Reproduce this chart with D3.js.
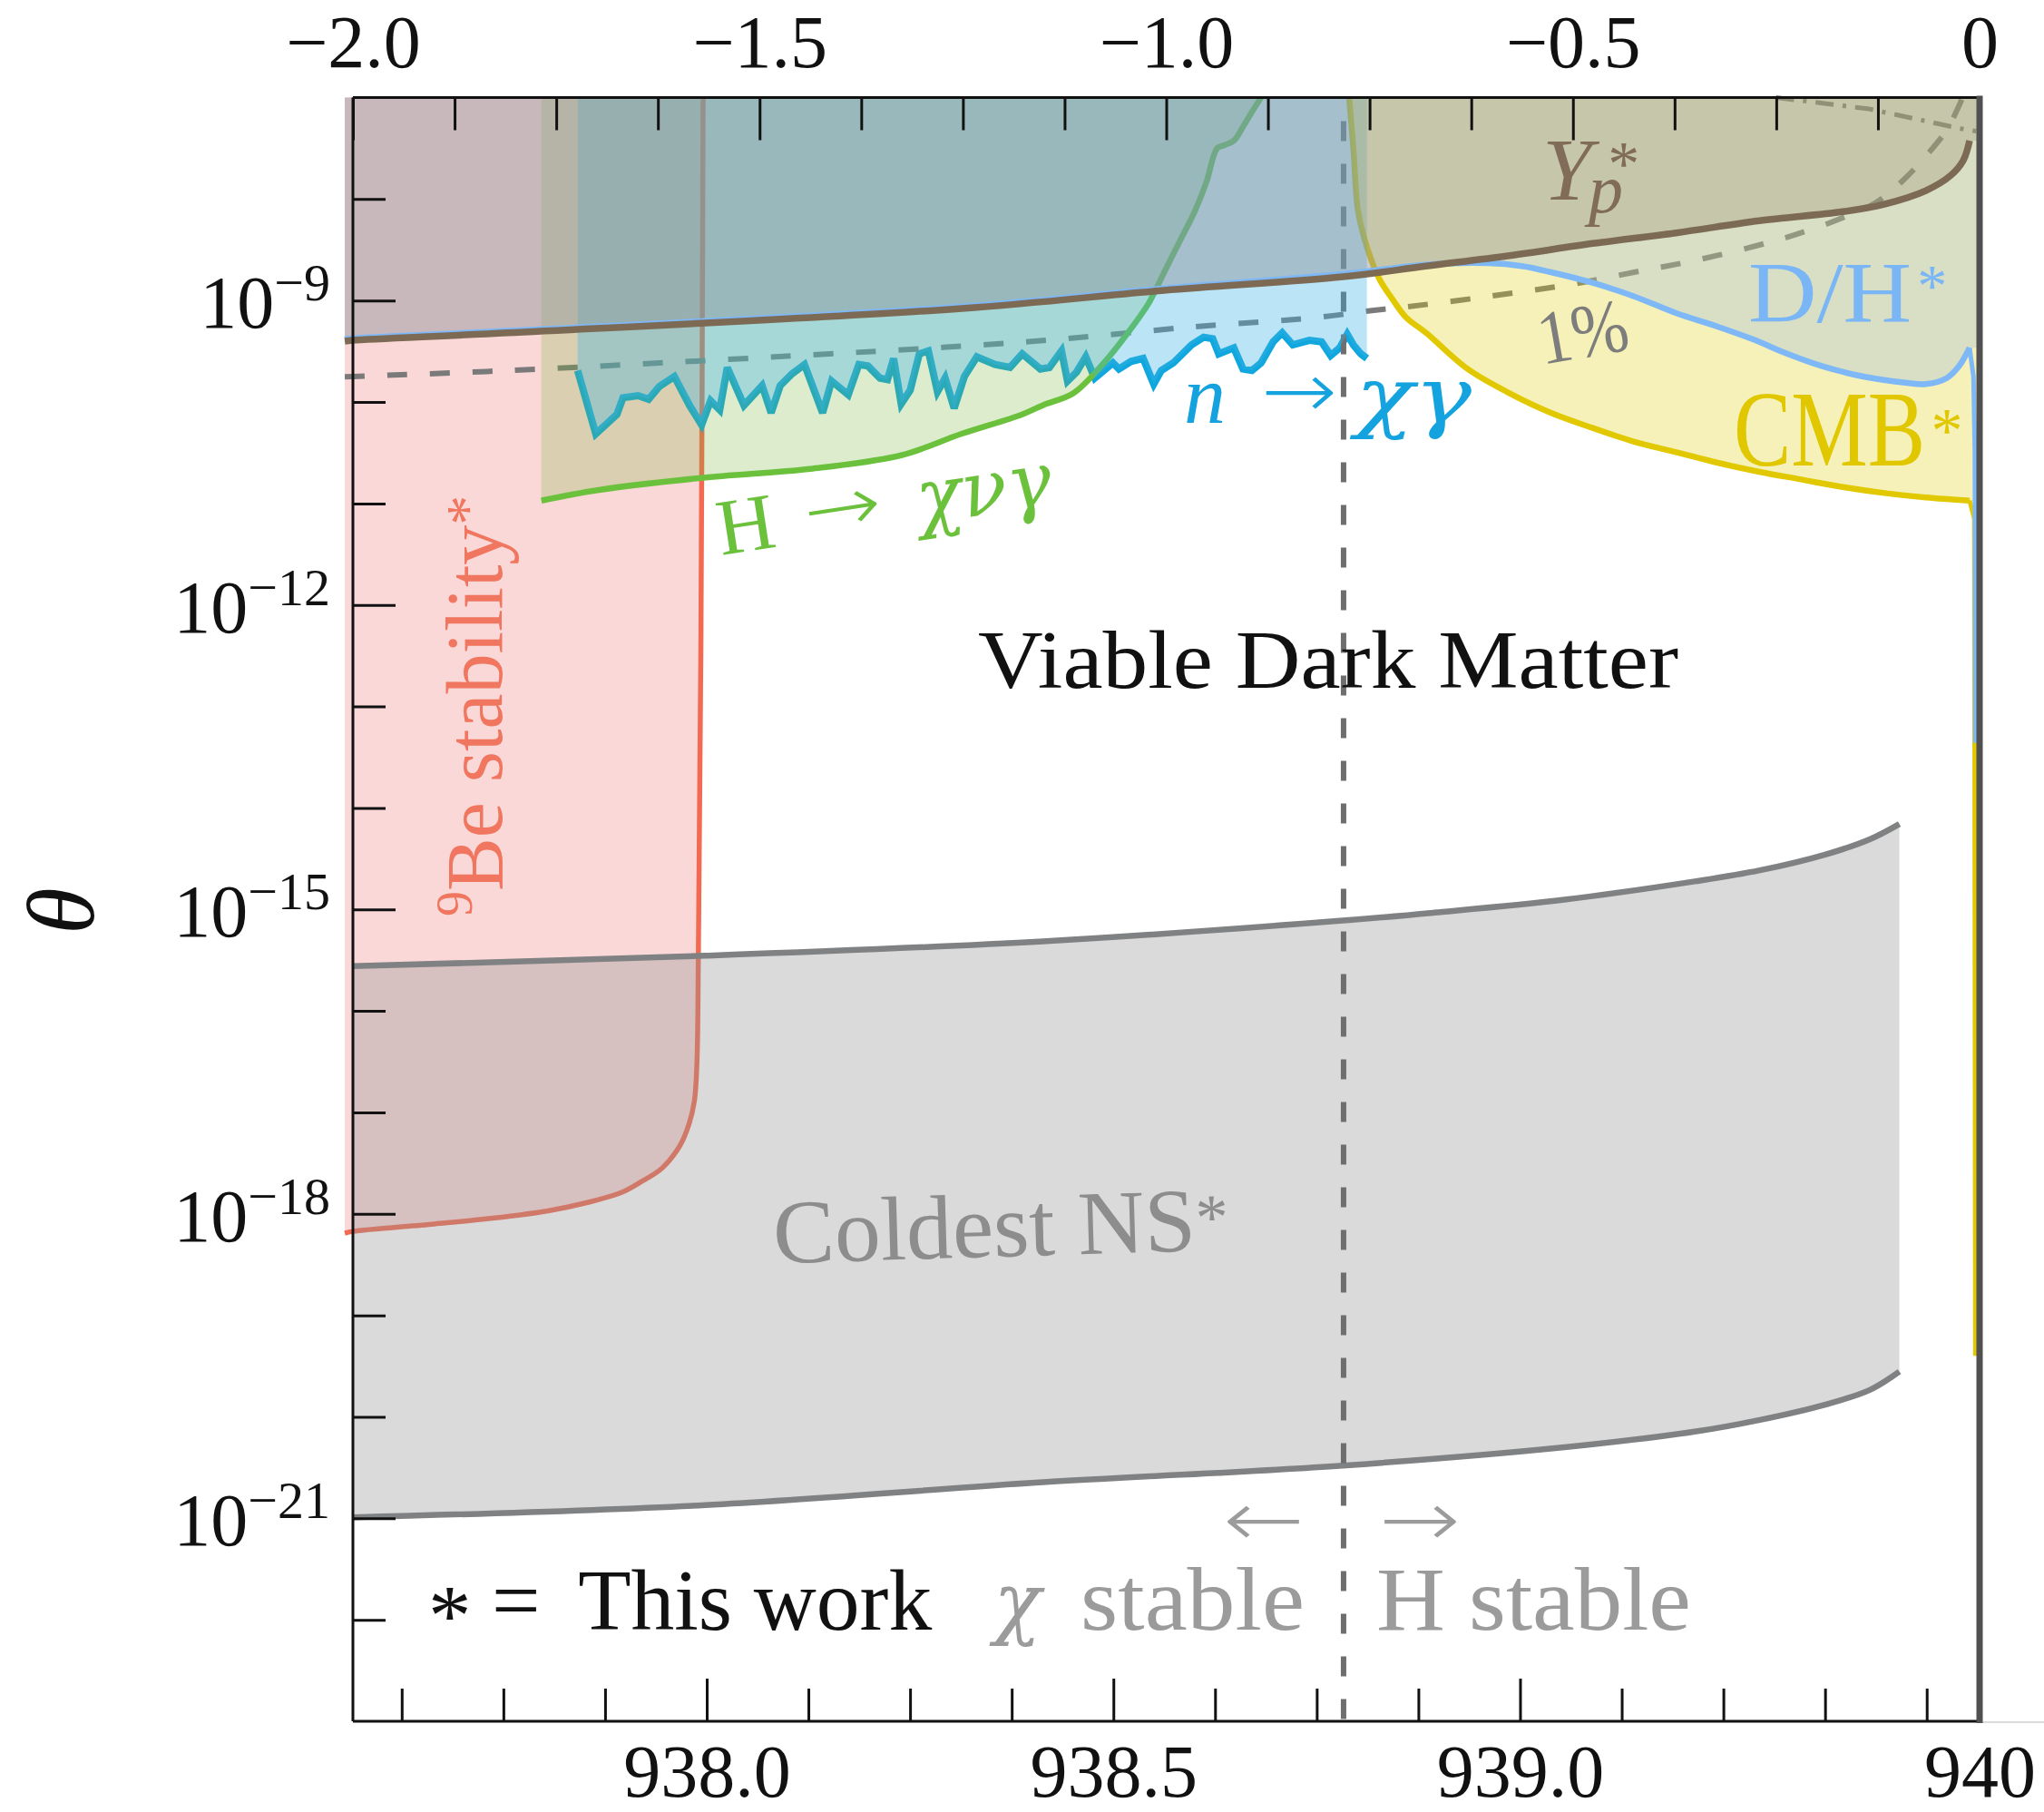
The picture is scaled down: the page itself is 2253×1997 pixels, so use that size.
<!DOCTYPE html>
<html>
<head>
<meta charset="utf-8">
<script src="https://cdn.jsdelivr.net/npm/d3@7/dist/d3.min.js"></script>
<style>
html,body{margin:0;padding:0;background:#fff;}
svg{display:block;}
</style>
</head>
<body>
<svg id="chart" width="2253" height="1997"></svg>
<script>
// ---------------- data ----------------
// x = m_chi - m_n  [MeV]  (top axis),  y = log10(theta)
const mN = 939.565;                 // bottom axis: m_chi = x + mN
const chiStableMass = 938.783;      // m_p + m_e  (vertical dashed line)
const topTickLabels = [-2.0, -1.5, -1.0, -0.5, 0];
const bottomTickLabels = [938.0, 938.5, 939.0, 939.565];
const yTickExponents = [-9, -12, -15, -18, -21];

const beStability = [[-2.01,-18.19],[-2.0,-18.173],[-1.9,-18.10],[-1.831,-18.045],[-1.76,-17.97],[-1.7104,-17.886],[-1.67,-17.79],[-1.6461,-17.686],[-1.62,-17.55],[-1.5979,-17.327],[-1.587,-17.12],[-1.5801,-16.885],[-1.577,-16.5],[-1.5753,-15.49],[-1.5721,-12.298],[-1.5694,-7.0]];

const coldestNSUpper = [[-2.0,-15.559],[-1.5667,-15.456],[-1.1516,-15.315],[-0.783,-15.110],[-0.6708,-15.032],[-0.5105,-14.904],[-0.3502,-14.724],[-0.2701,-14.615],[-0.1899,-14.46],[-0.135,-14.31],[-0.0986,-14.159]];
const coldestNSLower = [[-2.0,-20.991],[-1.5667,-20.87],[-1.1516,-20.645],[-0.783,-20.48],[-0.5105,-20.30],[-0.3502,-20.146],[-0.2701,-20.03],[-0.1899,-19.88],[-0.135,-19.735],[-0.0986,-19.555]];

const hDecay = [[-1.7683,-10.972],[-1.6977,-10.867],[-1.5713,-10.748],[-1.4375,-10.659],[-1.3259,-10.525],[-1.2515,-10.313],[-1.1771,-10.122],[-1.1512,-10.03],[-1.114,-9.913],[-1.0767,-9.615],[-1.0471,-9.318],[-1.021,-9.019],[-1.0025,-8.721],[-0.9838,-8.423],[-0.9652,-8.125],[-0.9504,-7.827],[-0.9373,-7.499],[-0.9281,-7.469],[-0.9169,-7.425],[-0.9058,-7.291],[-0.8946,-7.141],[-0.8834,-7.0]];

const nDecay = [[-1.7237,-9.690],[-1.7014,-10.315],[-1.6754,-10.122],[-1.6679,-9.958],[-1.6494,-9.937],[-1.6364,-9.973],[-1.6233,-9.848],[-1.6048,-9.749],[-1.5862,-10.033],[-1.5713,-10.226],[-1.5602,-9.988],[-1.5490,-10.078],[-1.5397,-9.660],[-1.5192,-10.033],[-1.4969,-9.839],[-1.4858,-10.107],[-1.4746,-9.839],[-1.4598,-9.720],[-1.4448,-9.631],[-1.4225,-10.107],[-1.4114,-9.794],[-1.3910,-9.928],[-1.3779,-9.631],[-1.3668,-9.645],[-1.3519,-9.765],[-1.3427,-9.779],[-1.3352,-9.571],[-1.3259,-10.018],[-1.3148,-9.884],[-1.3036,-9.526],[-1.2925,-9.496],[-1.2813,-9.899],[-1.2719,-9.765],[-1.2608,-10.062],[-1.2482,-9.749],[-1.2329,-9.555],[-1.2106,-9.631],[-1.1921,-9.660],[-1.1771,-9.526],[-1.1548,-9.675],[-1.1437,-9.660],[-1.1288,-9.496],[-1.1214,-9.794],[-1.1102,-9.705],[-1.0990,-9.555],[-1.0879,-9.765],[-1.0656,-9.615],[-1.0582,-9.675],[-1.0433,-9.600],[-1.0284,-9.571],[-1.0154,-9.824],[-1.0061,-9.690],[-0.9913,-9.615],[-0.9690,-9.437],[-0.9541,-9.362],[-0.9429,-9.377],[-0.9355,-9.526],[-0.9169,-9.466],[-0.9057,-9.675],[-0.8946,-9.690],[-0.8834,-9.615],[-0.8686,-9.407],[-0.8574,-9.318],[-0.8444,-9.437],[-0.8240,-9.392],[-0.8090,-9.407],[-0.7979,-9.541],[-0.7867,-9.466],[-0.7775,-9.332],[-0.7700,-9.437],[-0.7607,-9.526],[-0.7533,-9.571]];

const ypLine = [[-2.01,-9.40],[-2.0,-9.392],[-1.8093,-9.318],[-1.2515,-9.079],[-1.0025,-8.900],[-0.783,-8.766],[-0.6806,-8.661],[-0.5781,-8.558],[-0.4757,-8.438],[-0.3733,-8.334],[-0.2709,-8.214],[-0.1684,-8.125],[-0.1172,-8.051],[-0.066,-7.917],[-0.0354,-7.767],[-0.02,-7.619],[-0.0123,-7.425]];

const dhLine = [[-2.01,-9.38],[-2.0,-9.372],[-1.8093,-9.298],[-1.2515,-9.059],[-1.0025,-8.880],[-0.783,-8.740],[-0.6806,-8.647],[-0.6038,-8.632],[-0.5629,-8.661],[-0.527,-8.721],[-0.4757,-8.826],[-0.4246,-8.96],[-0.3733,-9.124],[-0.3221,-9.258],[-0.2709,-9.407],[-0.2453,-9.496],[-0.1941,-9.645],[-0.1429,-9.749],[-0.0917,-9.809],[-0.066,-9.824],[-0.0405,-9.765],[-0.0251,-9.645],[-0.0123,-9.466]];
const dhEdge = [[-0.0123,-9.466],[-0.0075,-9.75],[-0.0058,-10.5],[-0.0052,-13.36]];

const cmbLine = [[-0.7752,-7.0],[-0.7697,-7.529],[-0.7641,-8.125],[-0.7529,-8.482],[-0.7384,-8.781],[-0.7217,-8.989],[-0.705,-9.168],[-0.6806,-9.318],[-0.6294,-9.675],[-0.5781,-9.913],[-0.527,-10.107],[-0.4757,-10.256],[-0.4246,-10.391],[-0.3733,-10.494],[-0.3221,-10.599],[-0.2709,-10.688],[-0.2197,-10.763],[-0.1684,-10.838],[-0.1172,-10.897],[-0.066,-10.941],[-0.0123,-10.972]];
const cmbEdge = [[-0.0123,-10.972],[-0.0065,-11.15],[-0.0058,-15.0],[-0.0052,-19.4]];

const onePercent = [[-2.01,-9.752],[-2.0,-9.749],[-1.81,-9.69],[-1.274,-9.461],[-1.125,-9.377],[-0.9652,-9.258],[-0.8165,-9.168],[-0.7421,-9.094],[-0.7062,-9.064],[-0.6038,-8.96],[-0.5014,-8.84],[-0.4246,-8.721],[-0.3477,-8.602],[-0.2709,-8.453],[-0.2197,-8.334],[-0.1684,-8.185],[-0.1275,-8.035],[-0.0917,-7.798],[-0.0609,-7.529],[-0.0405,-7.32],[-0.0245,-7.067],[-0.0212,-7.0]];

const dashDot = [[-0.2504,-7.0],[-0.1361,-7.112],[-0.0148,-7.32],[-0.004,-7.33]];

// ---------------- scales ----------------
const M = {left: 389, right: 2182, top: 107.5, bottom: 1897};
const SERIF = "'Liberation Serif','Times New Roman',Times,serif";
const GREEK = "'DejaVu Serif',serif";
const ARROW = "'DejaVu Sans',sans-serif";
const svg = d3.select("#chart");
svg.append("rect").attr("width", 2253).attr("height", 1997).attr("fill", "#fff");

const xD = d3.scaleLinear().domain([-2, 0]).range([M.left, M.right]);
const xM = d3.scaleLinear().domain([mN - 2, mN]).range([M.left, M.right]);
const y = d3.scaleLog().domain([1e-23, 1e-7]).range([M.bottom, M.top]);
const yL = v => y(Math.pow(10, v));

const smooth = d3.line().x(d => xD(d[0])).y(d => yL(d[1])).curve(d3.curveCatmullRom.alpha(0.5));
const straight = d3.line().x(d => xD(d[0])).y(d => yL(d[1]));
const closePath = (gen, pts, extra) => gen(pts) + extra.map(c => "L" + xD(c[0]) + "," + yL(c[1])).join("") + "Z";

const g = svg.append("g");
const top7 = -7;

// Be stability (fill + line, underneath)
g.append("path").attr("d", closePath(smooth, beStability, [[-2.01, top7]]))
  .attr("fill", "rgba(240,100,100,0.25)");
g.append("path").attr("d", smooth(beStability)).attr("fill", "none")
  .attr("stroke", "#f26a52").attr("stroke-width", 5.5);

// Coldest NS band
const nsPath = smooth(coldestNSUpper) + smooth(coldestNSLower.slice().reverse()).replace(/^M/, "L") + "Z";
g.append("path").attr("d", nsPath).attr("fill", "rgba(150,150,150,0.35)");
[coldestNSUpper, coldestNSLower].forEach(c =>
  g.append("path").attr("d", smooth(c)).attr("fill", "none").attr("stroke", "#7f8183").attr("stroke-width", 6.5));

// lines that sit under the translucent fills
g.append("path").attr("d", straight(nDecay)).attr("fill", "none")
  .attr("stroke", "#10a6de").attr("stroke-width", 8).attr("stroke-linejoin", "miter").attr("stroke-miterlimit", 3);
g.append("path").attr("d", smooth(onePercent)).attr("fill", "none")
  .attr("stroke", "#7a7a7a").attr("stroke-width", 6).attr("stroke-dasharray", "22,25");
g.append("path").attr("d", straight(dashDot)).attr("fill", "none")
  .attr("stroke", "#7a7a7a").attr("stroke-width", 5).attr("stroke-dasharray", "20,10,4,10");
g.append("line").attr("x1", xM(chiStableMass)).attr("x2", xM(chiStableMass))
  .attr("y1", M.top).attr("y2", M.bottom + 8)
  .attr("stroke", "#6e6e6e").attr("stroke-width", 6).attr("stroke-dasharray", "22,25").attr("stroke-dashoffset", 21);
g.append("path").attr("d", smooth(cmbLine)).attr("fill", "none")
  .attr("stroke", "#e2c800").attr("stroke-width", 6.5);
g.append("path").attr("d", straight(cmbEdge)).attr("fill", "none")
  .attr("stroke", "#e2c800").attr("stroke-width", 5);

// H -> chi nu gamma
const hFirst = hDecay[0], hLast = hDecay[hDecay.length - 1];
g.append("path").attr("d", closePath(smooth, hDecay, [[hLast[0], top7], [hFirst[0], top7]]))
  .attr("fill", "rgba(125,180,60,0.25)");
g.append("path").attr("d", smooth(hDecay)).attr("fill", "none")
  .attr("stroke", "#6cc13c").attr("stroke-width", 6.5);

// n -> chi gamma fill
const nFirst = nDecay[0], nLast = nDecay[nDecay.length - 1];
g.append("path").attr("d", closePath(straight, nDecay, [[nLast[0], top7], [nFirst[0], top7]]))
  .attr("fill", "rgba(60,180,230,0.35)");

// CMB fill
const cLast = cmbLine[cmbLine.length - 1];
g.append("path").attr("d", closePath(smooth, cmbLine, [[0, cLast[1]], [0, top7]]))
  .attr("fill", "rgba(220,205,0,0.28)");

// D/H fill
const dLast = dhLine[dhLine.length - 1];
g.append("path").attr("d", closePath(smooth, dhLine, [[0, dLast[1]], [0, top7], [-2.01, top7]]))
  .attr("fill", "rgba(140,175,235,0.28)");

// Yp fill
const yLast = ypLine[ypLine.length - 1];
g.append("path").attr("d", closePath(smooth, ypLine, [[0, yLast[1]], [0, top7], [-2.01, top7]]))
  .attr("fill", "rgba(140,125,90,0.25)");

// top lines
g.append("path").attr("d", smooth(dhLine)).attr("fill", "none")
  .attr("stroke", "#7eb8f7").attr("stroke-width", 6.5);
g.append("path").attr("d", straight(dhEdge)).attr("fill", "none")
  .attr("stroke", "#7eb8f7").attr("stroke-width", 5);
g.append("path").attr("d", smooth(ypLine)).attr("fill", "none")
  .attr("stroke", "#7d6a55").attr("stroke-width", 7.5);

// ---------------- axes ----------------
const axes = svg.append("g");
const styleAxis = sel => {
  sel.select(".domain").remove();
  sel.selectAll(".tick line").attr("stroke", "#111").attr("stroke-width", 3);
  sel.selectAll(".tick text").attr("font-family", SERIF).attr("font-size", 82).attr("fill", "#111");
};
const fmtTop = d => d === 0 ? "0" : d3.format(".1f")(d);
const fmtBottom = d => d > 939.5 ? d3.format(".0f")(d) : d3.format(".1f")(d);
const topMinor = d3.range(1, 16).map(k => -2 + 0.125 * k).filter(v => !topTickLabels.some(t => Math.abs(t - v) < 1e-6));
const bottomMinor = d3.range(1, 17).map(k => 937.5 + 0.125 * k).filter(v => !bottomTickLabels.some(t => Math.abs(t - v) < 1e-6));
const yMinor = d3.range(-22, -7).filter(e => !yTickExponents.includes(e)).map(e => Math.pow(10, e));

axes.append("g").attr("transform", `translate(0,${M.top})`)
  .call(d3.axisTop(xD).tickValues(topTickLabels).tickSize(-47).tickPadding(34).tickFormat(fmtTop)).call(styleAxis);
axes.append("g").attr("transform", `translate(0,${M.top})`)
  .call(d3.axisTop(xD).tickValues(topMinor).tickSize(-36).tickFormat("")).call(styleAxis);
axes.append("g").attr("transform", `translate(0,${M.bottom})`)
  .call(d3.axisBottom(xM).tickValues(bottomTickLabels).tickSize(-47).tickPadding(25).tickFormat(fmtBottom)).call(styleAxis);
axes.append("g").attr("transform", `translate(0,${M.bottom})`)
  .call(d3.axisBottom(xM).tickValues(bottomMinor).tickSize(-36).tickFormat("")).call(styleAxis);
axes.append("g").attr("transform", `translate(${M.left},0)`)
  .call(d3.axisLeft(y).tickValues(yTickExponents.map(e => Math.pow(10, e))).tickSize(-47).tickFormat("")).call(styleAxis);
axes.append("g").attr("transform", `translate(${M.left},0)`)
  .call(d3.axisLeft(y).tickValues(yMinor).tickSize(-36).tickFormat("")).call(styleAxis);

// frame
axes.append("line").attr("x1", M.left).attr("x2", M.right).attr("y1", M.top).attr("y2", M.top).attr("stroke", "#111").attr("stroke-width", 3);
axes.append("line").attr("x1", M.left).attr("x2", M.right).attr("y1", M.bottom).attr("y2", M.bottom).attr("stroke", "#111").attr("stroke-width", 3);
axes.append("line").attr("x1", M.left).attr("x2", M.left).attr("y1", M.top).attr("y2", M.bottom).attr("stroke", "#111").attr("stroke-width", 3);
axes.append("line").attr("x1", M.right).attr("x2", 2253).attr("y1", M.bottom + 1).attr("y2", M.bottom + 1).attr("stroke", "#cfcfcf").attr("stroke-width", 1.5);
axes.append("line").attr("x1", xD(0)).attr("x2", xD(0)).attr("y1", M.top - 2).attr("y2", M.bottom + 2).attr("stroke", "#505050").attr("stroke-width", 7);

// y tick labels 10^e
yTickExponents.forEach(e => {
  const t = axes.append("text").attr("x", M.left - 25).attr("y", yL(e) + 30)
    .attr("text-anchor", "end").attr("font-family", SERIF).attr("font-size", 82).attr("fill", "#111");
  t.append("tspan").text("10");
  t.append("tspan").attr("font-size", 58).attr("dy", -30).text("\u2212" + Math.abs(e));
});

// y-axis title
svg.append("text").attr("transform", `translate(67,1004) rotate(-90)`)
  .attr("text-anchor", "middle").attr("dominant-baseline", "central")
  .attr("font-family", SERIF).attr("font-style", "italic").attr("font-size", 105).attr("fill", "#111").text("\u03b8");

// ---------------- labels ----------------
const L = svg.append("g").attr("font-family", SERIF);

// Viable Dark Matter
L.append("text").attr("x", xD(-1.2314)).attr("y", yL(-12.816)).attr("font-size", 90)
  .attr("textLength", 772).attr("lengthAdjust", "spacingAndGlyphs").attr("fill", "#111").text("Viable Dark Matter");

// 9Be stability*
{
  const t = L.append("text").attr("transform", `translate(${xD(-1.8171)},${yL(-15.069)}) rotate(-90)`)
    .attr("fill", "#f0765f").attr("font-size", 88);
  t.append("tspan").attr("font-size", 56).attr("dy", -33).text("9");
  t.append("tspan").attr("dy", 33).text("Be stability");
  t.append("tspan").attr("font-size", 66).attr("dy", -16).text("*");
}

// H -> chi nu gamma
{
  const gg = L.append("g").attr("transform", `translate(${xD(-1.5471)},${yL(-11.511)}) rotate(-8.8)`).attr("fill", "#6cc13c");
  gg.append("text").attr("x", 0).attr("font-size", 88).text("H");
  gg.append("text").attr("x", 97).attr("y", -4).attr("font-family", ARROW).attr("font-weight", 200).attr("font-size", 84)
    .attr("textLength", 86).attr("lengthAdjust", "spacingAndGlyphs").text("\u2192");
  gg.append("text").attr("x", 222).attr("font-family", GREEK).attr("font-size", 84).attr("font-style", "italic")
    .attr("textLength", 150).attr("lengthAdjust", "spacingAndGlyphs").text("\u03c7\u03bd\u03b3");
}

// n -> chi gamma
{
  const yb = yL(-10.206);
  L.append("text").attr("x", xD(-0.9782)).attr("y", yb).attr("font-size", 92).attr("font-style", "italic").attr("fill", "#14a3de").text("n");
  L.append("text").attr("x", xD(-0.8834)).attr("y", yb - 6).attr("font-family", ARROW).attr("font-weight", 200).attr("font-size", 86).attr("fill", "#14a3de")
    .attr("textLength", 84).attr("lengthAdjust", "spacingAndGlyphs").text("\u2192");
  L.append("text").attr("x", xD(-0.7674)).attr("y", yb).attr("font-family", GREEK).attr("font-size", 86).attr("font-style", "italic").attr("fill", "#14a3de")
    .attr("textLength", 128).attr("lengthAdjust", "spacingAndGlyphs").text("\u03c7\u03b3");
}

// Y_p^*
L.append("text").attr("x", xD(-0.5376)).attr("y", yL(-8.006)).attr("font-size", 98).attr("font-style", "italic").attr("fill", "#806c58").text("Y");
L.append("text").attr("x", xD(-0.4807)).attr("y", yL(-8.135)).attr("font-size", 76).attr("font-style", "italic").attr("fill", "#806c58").text("p");
L.append("text").attr("x", xD(-0.4571)).attr("y", yL(-7.863)).attr("font-size", 70).attr("fill", "#806c58").text("*");

// D/H*
L.append("text").attr("x", xD(-0.2844)).attr("y", yL(-9.213)).attr("font-size", 96).attr("fill", "#7ab5f5")
  .attr("textLength", 180).attr("lengthAdjust", "spacingAndGlyphs").text("D/H");
L.append("text").attr("x", xD(-0.0766)).attr("y", yL(-9.05)).attr("font-size", 66).attr("fill", "#7ab5f5").text("*");

// CMB*
L.append("text").attr("x", xD(-0.3023)).attr("y", yL(-10.626)).attr("font-size", 118).attr("fill", "#e0c700")
  .attr("textLength", 211).attr("lengthAdjust", "spacingAndGlyphs").text("CMB");
L.append("text").attr("x", xD(-0.0596)).attr("y", yL(-10.49)).attr("font-size", 70).attr("fill", "#e0c700").text("*");

// 1%
L.append("text").attr("transform", `translate(${xD(-0.5376)},${yL(-9.633)}) rotate(-10)`)
  .attr("font-size", 84).attr("fill", "#7d7d7d").attr("textLength", 100).attr("lengthAdjust", "spacingAndGlyphs").text("1%");

// Coldest NS*
{
  const t = L.append("text").attr("transform", `translate(${xD(-1.4824)},${yL(-18.486)}) rotate(-1.7)`)
    .attr("font-size", 100).attr("fill", "#8d8d8d");
  t.append("tspan").attr("textLength", 466).attr("lengthAdjust", "spacingAndGlyphs").text("Coldest NS");
  t.append("tspan").attr("font-size", 72).attr("dy", -12).text("*");
}

// * = This work,  chi stable | H stable
{
  const yb = yL(-22.098);
  L.append("text").attr("x", xD(-1.9074)).attr("y", yb + 17).attr("font-size", 95).attr("fill", "#111").text("*");
  L.append("text").attr("x", xD(-1.8292)).attr("y", yb).attr("font-size", 95).attr("fill", "#111").text("=");
  L.append("text").attr("x", xD(-1.7232)).attr("y", yb).attr("font-size", 95).attr("fill", "#111")
    .attr("textLength", 390).attr("lengthAdjust", "spacingAndGlyphs").text("This work");
  L.append("text").attr("x", xD(-1.212)).attr("y", yb).attr("font-family", GREEK).attr("font-size", 88).attr("font-style", "italic").attr("fill", "#9b9b9b")
    .attr("textLength", 52).attr("lengthAdjust", "spacingAndGlyphs").text("\u03c7");
  L.append("text").attr("x", xD(-1.1054)).attr("y", yb).attr("font-size", 100).attr("fill", "#9b9b9b")
    .attr("textLength", 247).attr("lengthAdjust", "spacingAndGlyphs").text("stable");
  L.append("text").attr("x", xD(-0.7418)).attr("y", yb).attr("font-size", 100).attr("fill", "#9b9b9b")
    .attr("textLength", 347).attr("lengthAdjust", "spacingAndGlyphs").text("H stable");
  const ya = yL(-21.275);
  L.append("text").attr("x", xD(-0.9302)).attr("y", ya).attr("font-family", ARROW).attr("font-weight", 200).attr("font-size", 86).attr("fill", "#9b9b9b")
    .attr("textLength", 90).attr("lengthAdjust", "spacingAndGlyphs").text("\u2190");
  L.append("text").attr("x", xD(-0.7384)).attr("y", ya).attr("font-family", ARROW).attr("font-weight", 200).attr("font-size", 86).attr("fill", "#9b9b9b")
    .attr("textLength", 90).attr("lengthAdjust", "spacingAndGlyphs").text("\u2192");
}
</script>
</body>
</html>
